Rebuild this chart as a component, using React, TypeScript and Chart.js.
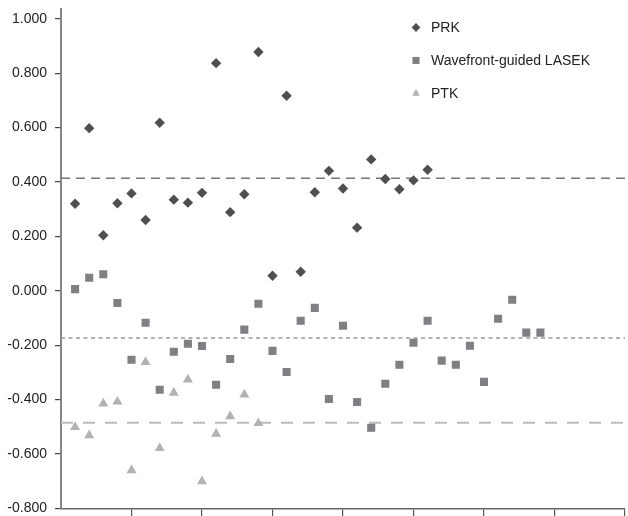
import React, { useEffect, useRef } from "react";
import { Chart, registerables } from "chart.js";

Chart.register(...registerables);

const prkValues = [0.320, 0.598, 0.204, 0.322, 0.358, 0.260, 0.618, 0.335, 0.324, 0.360, 0.837, 0.289, 0.355, 0.878, 0.055, 0.717, 0.070, 0.362, 0.441, 0.376, 0.232, 0.483, 0.411, 0.373, 0.406, 0.445];
const lasekValues = [0.006, 0.048, 0.061, -0.045, -0.254, -0.118, -0.364, -0.224, -0.195, -0.203, -0.346, -0.251, -0.143, -0.048, -0.221, -0.299, -0.110, -0.063, -0.398, -0.129, -0.409, -0.504, -0.342, -0.272, -0.191, -0.110, -0.257, -0.272, -0.202, -0.335, -0.103, -0.033, -0.154, -0.154];
const ptkValues = [-0.501, -0.532, -0.415, -0.408, -0.660, -0.262, -0.579, -0.375, -0.327, -0.701, -0.526, -0.462, -0.382, -0.487];
const meanValues = [0.414, -0.174, -0.485];
const seriesLabels = ["PRK", "Wavefront-guided LASEK", "PTK"];
const xMin = 0;
const xMax = 40;
const yMin = -0.8;
const yMax = 1.035;

const FONT = "'Liberation Sans', Arial, Helvetica, sans-serif";

const toPoints = (vals: number[]) => vals.map((v, i) => ({ x: i + 1, y: v }));
const meanLine = (v: number) => [{ x: xMin, y: v }, { x: xMax, y: v }];

function drawMarker(ctx: CanvasRenderingContext2D, style: string, x: number, y: number, r: number) {
  ctx.beginPath();
  if (style === "rectRot") {
    ctx.moveTo(x - r, y);
    ctx.lineTo(x, y - r);
    ctx.lineTo(x + r, y);
    ctx.lineTo(x, y + r);
  } else if (style === "rect") {
    const s = r * Math.SQRT1_2;
    ctx.rect(x - s, y - s, 2 * s, 2 * s);
  } else {
    ctx.moveTo(x, y - r);
    ctx.lineTo(x + r * Math.sin((2 * Math.PI) / 3), y - r * Math.cos((2 * Math.PI) / 3));
    ctx.lineTo(x + r * Math.sin((4 * Math.PI) / 3), y - r * Math.cos((4 * Math.PI) / 3));
  }
  ctx.closePath();
  ctx.fill();
}

const legendPlugin = {
  id: "vertLegend",
  afterDraw(chart: any) {
    const ctx = chart.ctx as CanvasRenderingContext2D;
    const x0 = 416;
    const y0 = 27.5;
    const gap = 33;
    ctx.save();
    ctx.font = `14px ${FONT}`;
    ctx.textBaseline = "middle";
    ctx.textAlign = "left";
    chart.data.datasets.slice(0, 3).forEach((ds: any, i: number) => {
      const y = y0 + i * gap;
      ctx.fillStyle = ds.backgroundColor;
      drawMarker(ctx, ds.pointStyle, x0, y, ds.pointStyle === "rect" ? 5 : 4.4);
      ctx.fillStyle = "#222";
      ctx.fillText(ds.label, x0 + 15, y + 0.5);
    });
    ctx.restore();
  },
};

export default function App() {
  const ref = useRef<HTMLCanvasElement | null>(null);

  useEffect(() => {
    if (!ref.current) return;
    const chart = new Chart(ref.current, {
      type: "scatter",
      data: {
        datasets: [
          {
            label: seriesLabels[0],
            data: toPoints(prkValues),
            pointStyle: "rectRot",
            pointRadius: 5.2,
            backgroundColor: "#4f4f4f",
            borderColor: "#4f4f4f",
            borderWidth: 0,
          },
          {
            label: seriesLabels[1],
            data: toPoints(lasekValues),
            pointStyle: "rect",
            pointRadius: 5.7,
            backgroundColor: "#7f7f84",
            borderColor: "#7f7f84",
            borderWidth: 0,
          },
          {
            label: seriesLabels[2],
            data: toPoints(ptkValues),
            pointStyle: "triangle",
            pointRadius: 5.8,
            backgroundColor: "#b2b2b2",
            borderColor: "#b2b2b2",
            borderWidth: 0,
          },
          {
            type: "line",
            label: "PRK mean",
            data: meanLine(meanValues[0]),
            borderColor: "#777",
            borderWidth: 1.5,
            borderDash: [9, 6],
            pointRadius: 0,
            showLine: true,
            fill: false,
          } as any,
          {
            type: "line",
            label: "LASEK mean",
            data: meanLine(meanValues[1]),
            borderColor: "#999",
            borderWidth: 1.5,
            borderDash: [4, 3.5],
            pointRadius: 0,
            showLine: true,
            fill: false,
          } as any,
          {
            type: "line",
            label: "PTK mean",
            data: meanLine(meanValues[2]),
            borderColor: "#bcbcbc",
            borderWidth: 2,
            borderDash: [12, 10],
            pointRadius: 0,
            showLine: true,
            fill: false,
          } as any,
        ],
      },
      options: {
        animation: false,
        responsive: true,
        maintainAspectRatio: false,
        layout: { autoPadding: false, padding: { left: 7, top: 9.3, right: 3, bottom: 0 } },
        plugins: {
          legend: { display: false },
          tooltip: { enabled: false },
        },
        scales: {
          x: {
            type: "linear",
            min: xMin,
            max: xMax,
            ticks: { stepSize: 5, display: false },
            afterFit: (s: any) => {
              s.height = 7.7;
              s.paddingLeft = 0;
              s.paddingRight = 0;
              s.paddingTop = 0;
              s.paddingBottom = 0;
            },
            grid: {
              drawOnChartArea: false,
              drawTicks: true,
              tickLength: 8,
              color: (c: any) => (c.tick && c.tick.value === 0 ? "rgba(0,0,0,0)" : "#555"),
              lineWidth: 1.2,
            },
            border: { color: "#666", width: 1.6 },
          },
          y: {
            type: "linear",
            min: yMin,
            max: yMax,
            afterFit: (s: any) => {
              s.width = 54;
              s.paddingTop = 0;
              s.paddingBottom = 0;
              s.paddingLeft = 0;
              s.paddingRight = 0;
            },
            ticks: {
              stepSize: 0.2,
              includeBounds: false,
              padding: 8,
              color: "#222",
              font: { family: FONT, size: 14 },
              callback: (v: any) => {
                const n = Number(v);
                return (Math.abs(n) < 1e-9 ? 0 : n).toFixed(3);
              },
            },
            grid: {
              drawOnChartArea: false,
              drawTicks: true,
              tickLength: 6,
              color: "#444",
              lineWidth: 1.2,
            },
            border: { color: "#858585", width: 2 },
          },
        },
      },
      plugins: [legendPlugin],
    } as any);
    return () => chart.destroy();
  }, []);

  return (
    <div style={{ position: "fixed", left: 0, top: 0, width: 628, height: 516, background: "#fff" }}>
      <canvas ref={ref} />
    </div>
  );
}
